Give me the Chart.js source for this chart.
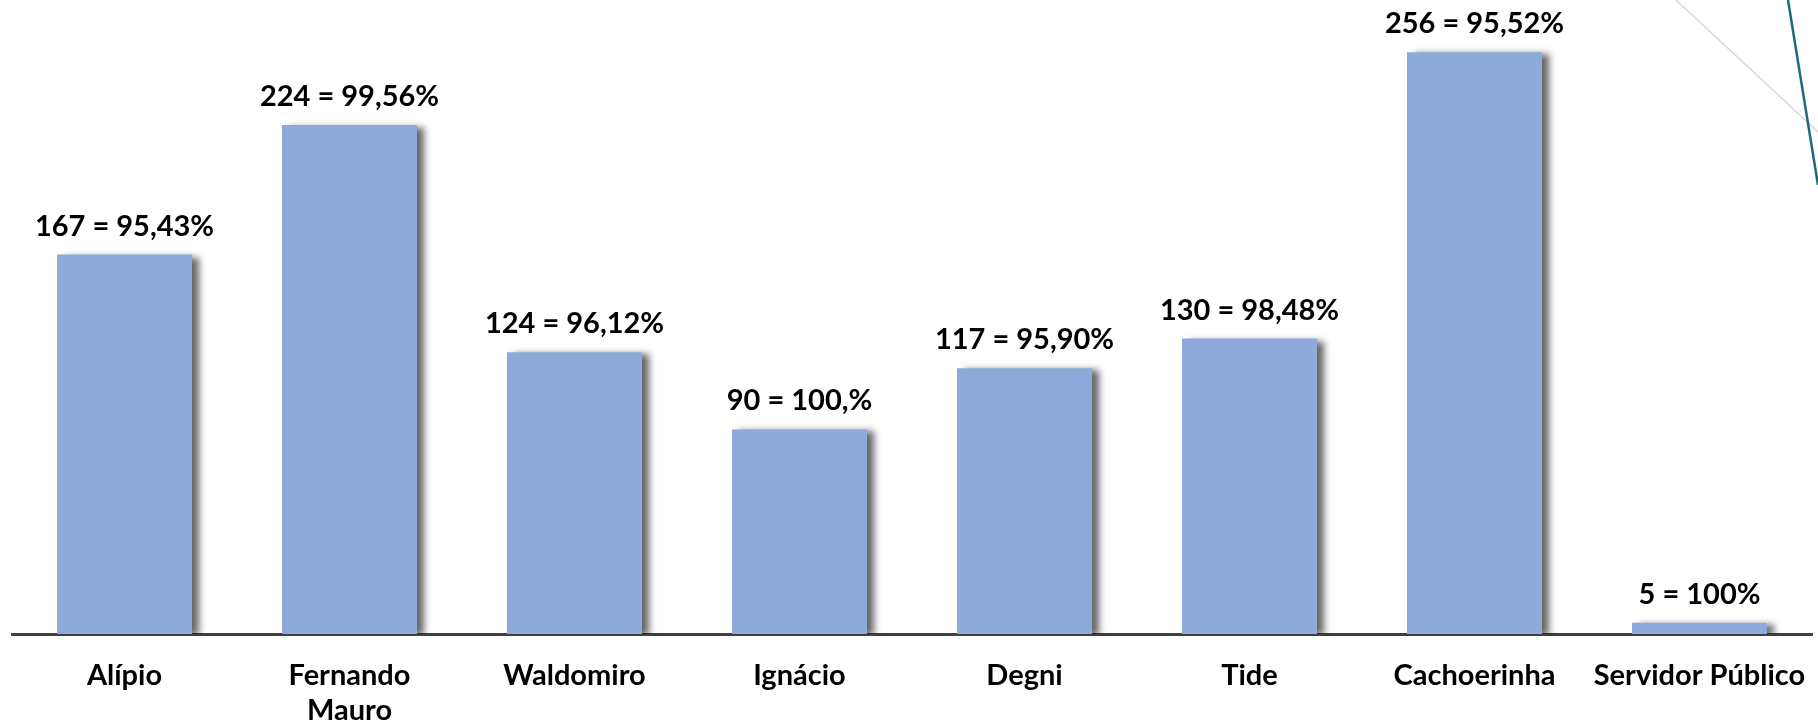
<!DOCTYPE html>
<html>
<head>
<meta charset="utf-8">
<script src="https://cdn.jsdelivr.net/npm/chart.js@4.4.0/dist/chart.umd.min.js"></script>
<style>
  html, body { margin: 0; padding: 0; background: #fff; }
  #wrap { width: 1818px; height: 720px; position: relative; }
</style>
</head>
<body>
<div id="wrap"><canvas id="votosChart"></canvas></div>
<script>
const categories = ['Alípio', ['Fernando', 'Mauro'], 'Waldomiro', 'Ignácio', 'Degni', 'Tide', 'Cachoerinha', 'Servidor Público'];
const votos = [167, 224, 124, 90, 117, 130, 256, 5];
const percentuais = ['95,43%', '99,56%', '96,12%', '100,%', '95,90%', '98,48%', '95,52%', '100%'];

const labelFont = 'bold 29px Lato, "Open Sans", sans-serif';

// shadow on the bars, like the office chart
const barShadow = {
  id: 'barShadow',
  beforeDatasetsDraw(chart) {
    const ctx = chart.ctx;
    ctx.save();
    ctx.shadowColor = 'rgba(0, 0, 0, 0.6)';
    ctx.shadowBlur = 7;
    ctx.shadowOffsetX = 7;
    ctx.shadowOffsetY = 2;
  },
  afterDatasetsDraw(chart) {
    chart.ctx.restore();
  }
};

// "n = x%" above each bar
const valueLabels = {
  id: 'valueLabels',
  afterDatasetsDraw(chart) {
    const ctx = chart.ctx;
    const meta = chart.getDatasetMeta(0);
    ctx.save();
    ctx.font = labelFont;
    ctx.fillStyle = '#000';
    ctx.textAlign = 'center';
    ctx.textBaseline = 'alphabetic';
    meta.data.forEach((bar, i) => {
      ctx.fillText(votos[i] + ' = ' + percentuais[i], bar.x, bar.y - 19);
    });
    ctx.restore();
  }
};

// the two slanted lines of the slide template, top right
const slideDecor = {
  id: 'slideDecor',
  afterDraw(chart) {
    const ctx = chart.ctx;
    ctx.save();
    ctx.strokeStyle = '#d6d6d6';
    ctx.lineWidth = 1.5;
    ctx.beginPath();
    ctx.moveTo(1676, 0);
    ctx.lineTo(1818, 132);
    ctx.stroke();
    ctx.strokeStyle = '#1d6b78';
    ctx.lineWidth = 2.5;
    ctx.beginPath();
    ctx.moveTo(1788, 0);
    ctx.lineTo(1818, 185);
    ctx.stroke();
    ctx.restore();
  }
};

new Chart(document.getElementById('votosChart'), {
  type: 'bar',
  data: {
    labels: categories,
    datasets: [{
      data: votos,
      backgroundColor: '#8eaadb',
      borderWidth: 0,
      barPercentage: 0.6,
      categoryPercentage: 1
    }]
  },
  options: {
    responsive: true,
    maintainAspectRatio: false,
    animation: false,
    layout: { padding: { left: 12, right: 6, top: 0, bottom: 0 } },
    plugins: {
      legend: { display: false },
      tooltip: { enabled: false }
    },
    scales: {
      x: {
        grid: { display: false, drawTicks: false },
        border: { display: true, color: '#404040', width: 3 },
        ticks: {
          color: '#000',
          font: { family: 'Lato, "Open Sans", sans-serif', size: 29, weight: 'bold', lineHeight: 1.2 },
          padding: 24,
          maxRotation: 0,
          autoSkip: false
        },
        afterFit(scale) {
          // keep the plot full width, labels may run into the margin
          scale.height = 86;
          scale.paddingLeft = 0;
          scale.paddingRight = 0;
        }
      },
      y: {
        display: false,
        min: 0,
        max: 279
      }
    }
  },
  plugins: [barShadow, valueLabels, slideDecor]
});
</script>
</body>
</html>
